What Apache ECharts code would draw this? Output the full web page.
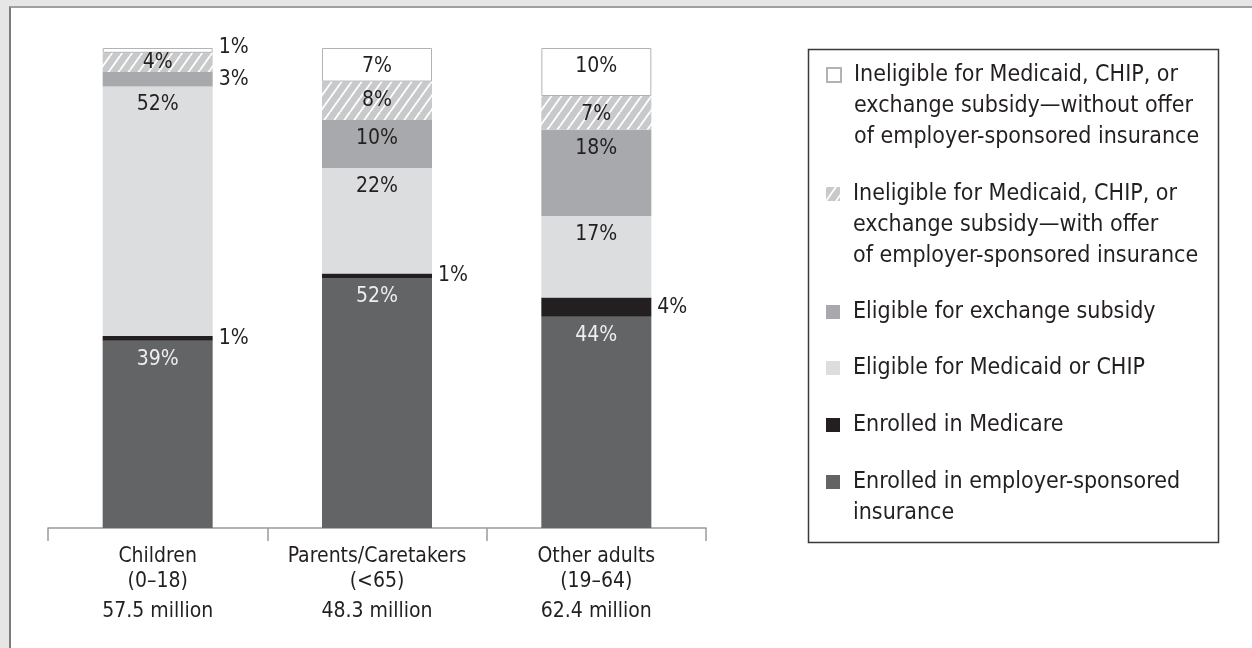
<!DOCTYPE html>
<html>
<head>
<meta charset="utf-8">
<script src="https://cdn.jsdelivr.net/npm/echarts@6/dist/echarts.min.js"></script>
<style>
  html, body { margin: 0; padding: 0; background: #e6e6e7; }
  #frame { position: absolute; left: 9px; top: 6px; width: 1243px; height: 642px; background: #ffffff;
           border-left: 2px solid #7c7c7c; border-top: 2px solid #a0a0a0; box-sizing: border-box; }
  #chart { position: absolute; left: 0; top: 0; width: 1252px; height: 648px; }
</style>
</head>
<body>
<div id="frame"></div>
<div id="chart"></div>
<script>
// ---------- data ----------
const categories = ['Children\n(0–18)', 'Parents/Caretakers\n(<65)', 'Other adults\n(19–64)'];
const totals = ['57.5 million', '48.3 million', '62.4 million'];

const seriesNames = [
  'Enrolled in employer-sponsored insurance',
  'Enrolled in Medicare',
  'Eligible for Medicaid or CHIP',
  'Eligible for exchange subsidy',
  'Ineligible for Medicaid, CHIP, or exchange subsidy—with offer of employer-sponsored insurance',
  'Ineligible for Medicaid, CHIP, or exchange subsidy—without offer of employer-sponsored insurance'
];
const employer     = [39, 52, 44];
const medicare     = [1, 1, 4];
const medicaid     = [52, 22, 17];
const exchange     = [3, 10, 18];
const withOffer    = [4, 8, 7];
const withoutOffer = [1, 7, 10];

const legendLines = [
  ['Ineligible for Medicaid, CHIP, or', 'exchange subsidy—without offer', 'of employer-sponsored insurance'],
  ['Ineligible for Medicaid, CHIP, or', 'exchange subsidy—with offer', 'of employer-sponsored insurance'],
  ['Eligible for exchange subsidy'],
  ['Eligible for Medicaid or CHIP'],
  ['Enrolled in Medicare'],
  ['Enrolled in employer-sponsored', 'insurance']
];
const legendOrder = [5, 4, 3, 2, 1, 0];

// ---------- styles ----------
const FONT = "'Liberation Sans Narrow', 'DejaVu Sans Condensed', 'Roboto Condensed', Roboto, sans-serif";
const TXT = '#231f20';
const LABEL_SIZE = 21;

function hatch() {
  const c = document.createElement('canvas');
  c.width = 10; c.height = 14;
  const g = c.getContext('2d');
  g.fillStyle = '#c8c9cb';
  g.fillRect(0, 0, 10, 14);
  g.strokeStyle = '#ffffff';
  g.lineWidth = 1.8;
  [-10, 0, 10].forEach(function (dx) {
    g.beginPath();
    g.moveTo(dx, 14);
    g.lineTo(dx + 10, 0);
    g.stroke();
  });
  return c;
}

const colors = ['#636466', '#231f20', '#dcdddf', '#a7a9ac', { image: hatch(), repeat: 'repeat' }, '#ffffff'];
const values = [employer, medicare, medicaid, exchange, withOffer, withoutOffer];

function labelFor(si, v) {
  const base = { show: true, fontFamily: FONT, fontSize: LABEL_SIZE, color: TXT, formatter: '{c}%' };
  if (si === 0) return Object.assign(base, { position: 'insideTop', distance: 8, color: '#eeeeee' });
  if (si === 1 || v <= 3) {
    const l = Object.assign(base, { position: 'right', distance: 6 });
    if (si === 5) l.offset = [0, -3];
    return l;
  }
  if (v <= 4) return Object.assign(base, { position: 'inside' });
  return Object.assign(base, { position: 'insideTop', distance: 8 });
}

const series = values.map(function (arr, si) {
  return {
    name: seriesNames[si],
    type: 'bar',
    stack: 'total',
    barWidth: 110,
    itemStyle: si === 5 ? { color: colors[si], borderColor: '#b3b3b3', borderWidth: 1 } : { color: colors[si] },
    emphasis: { disabled: true },
    data: arr.map(function (v) { return { value: v, label: labelFor(si, v) }; })
  };
});

const firstLineY = [75, 194, 312, 368, 425, 482];
const LH = 31;
const legends = legendOrder.map(function (si, k) {
  const n = legendLines[k].length;
  const H = (2 * n - 1) * LH;
  let blank = '';
  for (let i = 1; i < n; i++) blank += '\n';
  return {
    orient: 'vertical',
    left: 826,
    top: firstLineY[k] - H / 2,
    padding: 0,
    itemWidth: 14,
    itemHeight: 14,
    selectedMode: false,
    icon: 'rect',
    data: [seriesNames[si]],
    formatter: function () { return blank + legendLines[k].join('\n'); },
    textStyle: { fontFamily: FONT, fontSize: 23, color: TXT, lineHeight: LH, padding: [0, 0, 0, 8] }
  };
});

const chart = echarts.init(document.getElementById('chart'), null, { renderer: 'canvas' });
chart.setOption({
  backgroundColor: 'transparent',
  animation: false,
  grid: { left: 48, top: 48, width: 658, height: 480 },
  xAxis: {
    type: 'category',
    data: categories,
    axisLine: { lineStyle: { color: '#9a9a9a', width: 1.5 } },
    axisTick: { show: true, length: 13, interval: 0, lineStyle: { color: '#9a9a9a', width: 1.5 } },
    axisLabel: {
      interval: 0,
      margin: 16,
      formatter: function (val, idx) {
        const p = val.split('\n');
        return '{n|' + p[0] + '}\n{n|' + p[1] + '}\n{m|' + totals[idx] + '}';
      },
      rich: {
        n: { fontFamily: FONT, fontSize: LABEL_SIZE, color: TXT, lineHeight: 25 },
        m: { fontFamily: FONT, fontSize: LABEL_SIZE, color: TXT, lineHeight: 35 }
      }
    }
  },
  yAxis: { type: 'value', min: 0, max: 100, show: false },
  legend: legends,
  graphic: [{
    type: 'rect', left: 806, top: 47,
    shape: { width: 410, height: 493 },
    style: { fill: 'none', stroke: '#3a3a3a', lineWidth: 1.5 },
    silent: true
  }],
  series: series
});
</script>
</body>
</html>
